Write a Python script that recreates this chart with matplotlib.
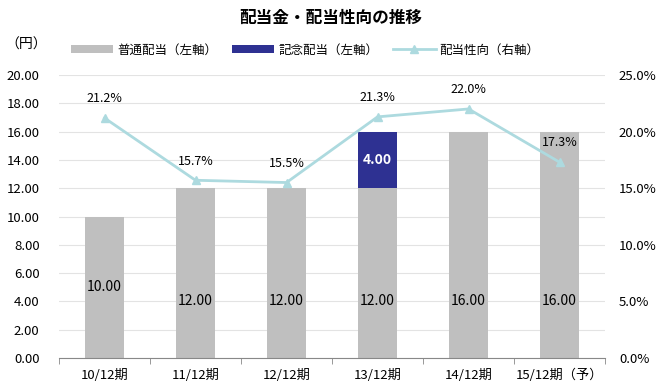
import numpy as np
import matplotlib.pyplot as plt
from matplotlib.ticker import FuncFormatter

plt.rcParams['font.family'] = ['Noto Sans CJK JP', 'DejaVu Sans']

periods = ['10/12期', '11/12期', '12/12期', '13/12期', '14/12期', '15/12期（予）']
ordinary = [10.0, 12.0, 12.0, 12.0, 16.0, 16.0]
commemorative = [0.0, 0.0, 0.0, 4.0, 0.0, 0.0]
payout = [21.2, 15.7, 15.5, 21.3, 22.0, 17.3]

fig = plt.figure(figsize=(6.61, 3.92), dpi=100)
ax = fig.add_axes([0.0893, 0.0867, 0.8260, 0.7220])
ax2 = ax.twinx()

x = np.arange(len(periods))
gray = '#BFBFBF'
navy = '#2E3192'
teal = '#ADDADF'

ax.bar(x, ordinary, width=0.42, color=gray, label='普通配当（左軸）', zorder=2)
ax.bar(x, commemorative, width=0.42, bottom=ordinary, color=navy, label='記念配当（左軸）', zorder=2)

# bar value labels
label_y = [5, 4, 4, 4, 4, 4]
for i, v in enumerate(ordinary):
    ax.text(x[i], label_y[i], f'{v:.2f}', ha='center', va='center', fontsize=10, color='#000000', zorder=3)
for i, v in enumerate(commemorative):
    if v > 0:
        ax.text(x[i], ordinary[i] + v / 2, f'{v:.2f}', ha='center', va='center',
                fontsize=10, color='white', fontweight='bold', zorder=3)

ax.set_xlim(-0.5, len(periods) - 0.5)
ax.set_ylim(0, 20)
ax.set_yticks(np.arange(0, 21, 2))
ax.yaxis.set_major_formatter(FuncFormatter(lambda v, p: f'{v:.2f}'))
ax.set_xticks(x)
ax.set_xticklabels(periods, fontsize=9.5)
ax.set_xticks(np.arange(-0.5, len(periods), 1), minor=True)
ax.tick_params(axis='x', which='major', length=0, pad=8)
ax.tick_params(axis='x', which='minor', length=4, color='#888888')
ax.tick_params(axis='y', length=0, labelsize=9.5, pad=14)
ax.grid(axis='y', color='#E3E3E3', linewidth=0.8, zorder=0)
for s in ['top', 'left', 'right']:
    ax.spines[s].set_visible(False)
ax.spines['bottom'].set_color('#888888')

ax2.plot(x, payout, color=teal, linewidth=2, marker='^', markersize=6, label='配当性向（右軸）', zorder=4)
for i, v in enumerate(payout):
    ax2.text(x[i], v + 1.7, f'{v:.1f}%', ha='center', va='center', fontsize=9)
ax2.set_ylim(0, 25)
ax2.set_yticks(np.arange(0, 26, 5))
ax2.yaxis.set_major_formatter(FuncFormatter(lambda v, p: f'{v:.1f}%'))
ax2.tick_params(axis='y', length=0, labelsize=9.5, pad=10)
for s in ['top', 'left', 'right', 'bottom']:
    ax2.spines[s].set_visible(False)

fig.text(0.5, 0.955, '配当金・配当性向の推移', ha='center', va='center', fontsize=12, fontweight='bold')
fig.text(0.04, 0.885, '（円）', ha='center', va='center', fontsize=10)

h1, l1 = ax.get_legend_handles_labels()
h2, l2 = ax2.get_legend_handles_labels()
fig.legend(h1 + h2, l1 + l2, loc='center left', bbox_to_anchor=(0.09, 0.872), ncol=3, frameon=False,
           fontsize=9, handlelength=3.4, handleheight=0.6, handletextpad=0.3, columnspacing=1.2)

fig.savefig('out.png', dpi=100)
